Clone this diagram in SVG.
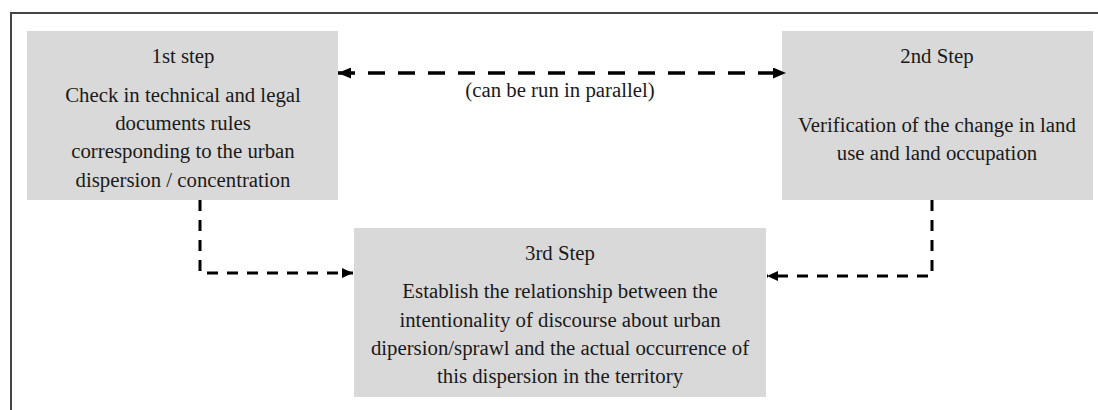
<svg xmlns="http://www.w3.org/2000/svg" width="1098" height="410" viewBox="0 0 1098 410">
<style>
.box{fill:#d9d9d9;}
.t{font-family:'Liberation Serif','Times New Roman',Times,'DejaVu Serif',serif;font-size:20.8px;fill:#1a1a1a;text-anchor:middle;}
.c1{fill:none;stroke:#000;stroke-width:3.5;stroke-dasharray:17 13;}
.c2{fill:none;stroke:#000;stroke-width:3;stroke-dasharray:11 9;}
</style>
<defs>
<marker id="ah" markerUnits="userSpaceOnUse" viewBox="0 0 13 11" refX="13" refY="5.5" markerWidth="13" markerHeight="11" orient="auto-start-reverse">
<path d="M0,0 L13,5.5 L0,11 z" fill="#000"/>
</marker>
<marker id="ah2" markerUnits="userSpaceOnUse" viewBox="0 0 11 10" refX="11" refY="5" markerWidth="11" markerHeight="10" orient="auto">
<path d="M0,0 L11,5 L0,10 z" fill="#000"/>
</marker>
</defs>
<rect x="0" y="0" width="1098" height="410" fill="#fff"/>
<path d="M11,410 L11,13 L1098,13" fill="none" stroke="#444" stroke-width="2"/>
<g id="step1">
<rect class="box" x="27" y="31" width="311" height="169"/>
<text class="t" x="183" y="63">1st step</text>
<text class="t" x="183" y="102">Check in technical and legal</text>
<text class="t" x="183" y="130">documents rules</text>
<text class="t" x="183" y="158">corresponding to the urban</text>
<text class="t" x="183" y="187">dispersion / concentration</text>
</g>
<g id="step2">
<rect class="box" x="782" y="31" width="311" height="169"/>
<text class="t" x="937" y="63">2nd Step</text>
<text class="t" x="937" y="132">Verification of the change in land</text>
<text class="t" x="937" y="160">use and land occupation</text>
</g>
<g id="step3">
<rect class="box" x="354" y="228" width="412" height="169"/>
<text class="t" x="560" y="260">3rd Step</text>
<text class="t" x="560" y="298">Establish the relationship between the</text>
<text class="t" x="560" y="327">intentionality of discourse about urban</text>
<text class="t" x="560" y="355">dipersion/sprawl and the actual occurrence of</text>
<text class="t" x="560" y="383">this dispersion in the territory</text>
</g>
<g id="connectors">
<path class="c1" d="M338,73 L786,73" marker-start="url(#ah)" marker-end="url(#ah)"/>
<text class="t" x="560" y="97">(can be run in parallel)</text>
<path class="c2" d="M200,200 L200,273 L353,273" marker-end="url(#ah2)"/>
<path class="c2" d="M932,200 L932,276 L767,276" marker-end="url(#ah2)"/>
</g>
</svg>
